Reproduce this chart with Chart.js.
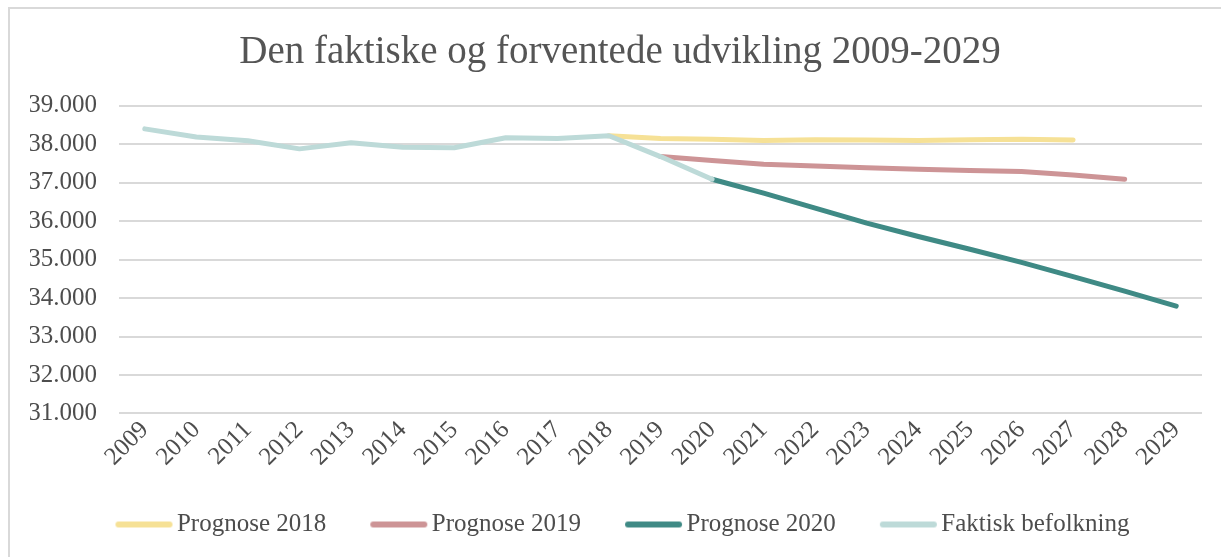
<!DOCTYPE html>
<html>
<head>
<meta charset="utf-8">
<script src="https://cdn.jsdelivr.net/npm/chart.js@4/dist/chart.umd.min.js"></script>
<style>
  body { margin: 0; background: #fff; }
  #frame { position: absolute; left: 8px; top: 7px; width: 1240px; height: 570px; border: 2px solid #d9d9d9; }
  #chart { position: absolute; left: 0; top: 0; }
</style>
</head>
<body>
<div id="frame"></div>
<canvas id="chart" width="1221" height="557"></canvas>
<script>
const years = ['2009', '2010', '2011', '2012', '2013', '2014', '2015', '2016', '2017', '2018',
  '2019', '2020', '2021', '2022', '2023', '2024', '2025', '2026', '2027', '2028', '2029'];

const faktisk = [38400, 38190, 38090, 37880, 38040, 37920, 37910, 38170, 38150, 38220,
  37680, 37090, null, null, null, null, null, null, null, null, null];
const prognose2018 = [null, null, null, null, null, null, null, null, null, 38220,
  38150, 38130, 38100, 38120, 38110, 38100, 38120, 38130, 38110, null, null];
const prognose2019 = [null, null, null, null, null, null, null, null, null, null,
  37680, 37580, 37480, 37435, 37390, 37350, 37320, 37290, 37200, 37090, null];
const prognose2020 = [null, null, null, null, null, null, null, null, null, null,
  null, 37090, 36730, 36340, 35950, 35600, 35270, 34930, 34560, 34180, 33790];

const textColor = '#4d4d4d';
const serif = "'Liberation Serif', 'DejaVu Serif', serif";

// legend marker: rounded line drawn on a small canvas, sitting close to the text
function legendLine(color) {
  const c = document.createElement('canvas');
  c.width = 80;
  c.height = 10;
  const ctx = c.getContext('2d');
  ctx.strokeStyle = color;
  ctx.lineWidth = 6;
  ctx.lineCap = 'round';
  ctx.beginPath();
  ctx.moveTo(22, 5);
  ctx.lineTo(73, 5);
  ctx.stroke();
  return c;
}

function line(label, data, color, order) {
  return {
    label: label,
    data: data,
    borderColor: color,
    backgroundColor: color,
    borderWidth: 5,
    borderCapStyle: 'round',
    borderJoinStyle: 'round',
    pointRadius: 0,
    pointStyle: legendLine(color),
    tension: 0,
    order: order, // faktisk on top
  };
}

const nudge = {
  id: 'nudge',
  afterLayout(chart) {
    chart.legend.left += 3;
    chart.legend.right += 3;
    chart.titleBlock.left += 4;
    chart.titleBlock.right += 4;
  },
};

new Chart(document.getElementById('chart'), {
  type: 'line',
  data: {
    labels: years,
    datasets: [
      line('Prognose 2018', prognose2018, '#f6e196', 3),
      line('Prognose 2019', prognose2019, '#cd9496', 2),
      line('Prognose 2020', prognose2020, '#3f8a85', 1),
      line('Faktisk befolkning', faktisk, '#bddad8', 0),
    ],
  },
  plugins: [nudge],
  options: {
    responsive: false,
    animation: false,
    devicePixelRatio: 1,
    layout: { padding: { left: 30, right: 19, top: 29, bottom: 10 } },
    plugins: {
      title: {
        display: true,
        text: 'Den faktiske og forventede udvikling 2009-2029',
        color: '#555555',
        font: { family: serif, size: 39, weight: 'normal' },
        padding: { top: 0, bottom: 30 },
      },
      legend: {
        position: 'bottom',
        labels: {
          usePointStyle: true,
          pointStyleWidth: 56,
          color: textColor,
          font: { family: serif, size: 25 },
          padding: 37,
          sort: (a, b) => a.datasetIndex - b.datasetIndex,
        },
      },
      tooltip: { enabled: false },
    },
    scales: {
      x: {
        offset: true,
        grid: { display: false },
        border: { display: false },
        ticks: {
          color: textColor,
          font: { family: serif, size: 25 },
          maxRotation: 45,
          minRotation: 45,
          padding: -6,
        },
        afterFit: (scale) => {
          scale.paddingLeft = 0;
          scale.height += 9;
        },
      },
      y: {
        min: 31000,
        max: 39000,
        grid: { color: '#d9d9d9', lineWidth: 2, drawTicks: false },
        border: { display: false },
        ticks: {
          stepSize: 1000,
          color: textColor,
          font: { family: serif, size: 25 },
          padding: 22,
          callback: (v) => v.toLocaleString('da-DK'),
        },
        afterFit: (scale) => {
          scale.width = 89;
        },
      },
    },
  },
});
</script>
</body>
</html>
